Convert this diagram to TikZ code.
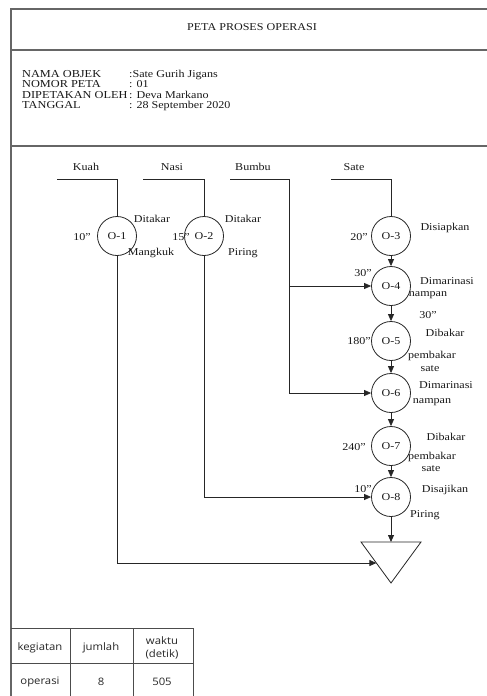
\documentclass[tikz,border=0pt]{standalone}
\usepackage{fontspec}
\setmainfont{Liberation Serif}[FakeStretch=1.15]
\newfontfamily\tabfont{Open Sans}[FakeStretch=1.1]
\usetikzlibrary{arrows.meta}
\begin{document}
\begin{tikzpicture}[x=1pt,y=-1pt,
  txt/.style={inner sep=0pt, font=\fontsize{10.5}{12}\selectfont, text=black!90},
  lab/.style={inner sep=0pt, font=\fontsize{10.7}{12}\selectfont, text=black!90, anchor=base west},
  op/.style={circle, draw=black!85, line width=0.8pt, minimum size=39pt, inner sep=0pt, font=\fontsize{10.5}{12}\selectfont, text=black!90},
  frame/.style={draw=black!60, line width=1.3pt},
  conn/.style={draw=black!85, line width=0.8pt},
  arr/.style={conn, -{Triangle[length=7pt,width=6pt]}},
  tab/.style={inner sep=0pt, font=\tabfont\fontsize{10.3}{11}\selectfont, text=black!85},
  tabline/.style={draw=black!70, line width=0.9pt}
]
\useasboundingbox (0,0) rectangle (487,696);
% frame
\draw[frame] (487,9) -- (11,9) -- (11,696);
\draw[frame] (11,50) -- (487,50);
\draw[frame] (11,146) -- (487,146);

% header
\node[txt] (title) at (252,27) {PETA PROSES OPERASI};
\node[lab] (l1) at (22,77) {NAMA OBJEK};
\node[lab] (l2) at (22,87.5) {NOMOR PETA};
\node[lab] (l3) at (22,98) {DIPETAKAN OLEH};
\node[lab] (l4) at (22,108) {TANGGAL};
\node[txt, anchor=base west] (v1) at (129,77) {:Sate Gurih Jigans};
\node[txt, anchor=base west] (v2) at (129,87.5) {: 01};
\node[txt, anchor=base west] (v3) at (129,98) {: Deva Markano};
\node[txt, anchor=base west] (v4) at (129,108) {: 28 September 2020};

% top materials
\node[txt] (kuah) at (86,167) {Kuah};
\node[txt] (nasi) at (172,167) {Nasi};
\node[txt] (bumbu) at (253,167) {Bumbu};
\node[txt] (sate) at (354,167) {Sate};

% operations
\node[op] (o1) at (117,236) {O-1};
\node[op] (o2) at (204,236) {O-2};
\node[op] (o3) at (391,236) {O-3};
\node[op] (o4) at (391,286) {O-4};
\node[op] (o5) at (391,341) {O-5};
\node[op] (o6) at (391,393) {O-6};
\node[op] (o7) at (391,446) {O-7};
\node[op] (o8) at (391,497) {O-8};

% storage triangle
\coordinate (triA) at (361,542);
\coordinate (triB) at (421,542);
\coordinate (triC) at (391,583);
\coordinate (triT) at (391,542);
\coordinate (triL) at (376.4,563);
\draw[conn] (triA) -- (triB) -- (triC) -- cycle;

% input lines
\coordinate (kuahS) at (57,179);  \coordinate (kuahK) at (117,179);
\coordinate (nasiS) at (143,179); \coordinate (nasiK) at (204,179);
\coordinate (bumS) at (230,179);  \coordinate (bumK) at (289,179);
\coordinate (sateS) at (331,179); \coordinate (sateK) at (391,179);
\draw[conn] (kuahS) -- (kuahK) -- (o1.north);
\draw[conn] (nasiS) -- (nasiK) -- (o2.north);
\draw[conn] (sateS) -- (sateK) -- (o3.north);
\draw[conn] (bumS) -- (bumK);
\draw[arr] (bumK) |- (o6.west);
\draw[arr] (bumK |- o4.west) -- (o4.west);
\draw[arr] (o1.south) |- (triL);
\draw[arr] (o2.south) |- (o8.west);

% main chain
\draw[arr] (o3.south) -- (o4.north);
\draw[arr] (o4.south) -- (o5.north);
\draw[arr] (o5.south) -- (o6.north);
\draw[arr] (o6.south) -- (o7.north);
\draw[arr] (o7.south) -- (o8.north);
\draw[arr] (o8.south) -- (triT);

% times
\node[txt] (t1) at (82,237) {10”};
\node[txt] (t2) at (181,237) {15”};
\node[txt] (t3) at (359,237) {20”};
\node[txt] (t4) at (363,273) {30”};
\node[txt] (t5) at (359,341) {180”};
\node[txt] (t7) at (354,447) {240”};
\node[txt] (t8) at (363,489) {10”};
\node[txt] (t6) at (428,315) {30”};

% descriptions
\node[txt] (d1a) at (152,219) {Ditakar};
\node[txt] (d1b) at (151,253) {Mangkuk};
\node[txt] (d2a) at (243,219) {Ditakar};
\node[txt] (d2b) at (243,253) {Piring};
\node[txt] (d3a) at (445,228) {Disiapkan};
\node[txt] (d4a) at (447,281) {Dimarinasi};
\node[txt] (d4b) at (428,295) {nampan};
\node[txt] (d5a) at (445,333) {Dibakar};
\node[txt] (d5b) at (432,356) {pembakar};
\node[txt] (d5c) at (430,369) {sate};
\node[txt] (d6a) at (446,385) {Dimarinasi};
\node[txt] (d6b) at (432,402) {nampan};
\node[txt] (d7a) at (446,437) {Dibakar};
\node[txt] (d7b) at (432,457) {pembakar};
\node[txt] (d7c) at (431,469) {sate};
\node[txt] (d8a) at (445,490) {Disajikan};
\node[txt] (d8b) at (425,515) {Piring};

% summary table
\draw[tabline] (11,628) -- (193,628);
\draw[tabline] (11,663) -- (193,663);
\draw[tabline] (70,628) -- (70,696);
\draw[tabline] (133,628) -- (133,696);
\draw[tabline] (193,628) -- (193,696);
\node[tab] (h1) at (40,648) {kegiatan};
\node[tab] (h2) at (101,648) {jumlah};
\node[tab] (h3a) at (162,641) {waktu};
\node[tab] (h3b) at (162,654) {(detik)};
\node[tab] (r1) at (40,682) {operasi};
\node[tab] (r2) at (101,682) {8};
\node[tab] (r3) at (162,682) {505};
\end{tikzpicture}
\end{document}
